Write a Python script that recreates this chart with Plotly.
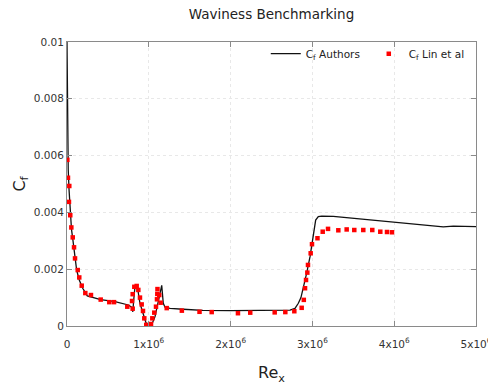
import plotly.graph_objects as go

# Authors (line)
auth_re = [0, 4e3, 8e3, 15e3, 25e3, 40e3, 55e3, 72e3, 98e3, 118e3, 150e3, 192e3, 248e3,
           412e3, 587e3, 750e3, 790e3, 805e3, 815e3, 831e3, 844e3, 870e3, 892e3, 933e3,
           965e3, 1000e3, 1035e3, 1076e3, 1116e3, 1137e3, 1158e3, 1177e3, 1198e3, 1260e3,
           1420e3, 1660e3, 2000e3, 2240e3, 2480e3, 2726e3, 2787e3, 2828e3, 2860e3, 2890e3,
           2930e3, 2971e3, 2999e3, 3023e3, 3040e3, 3072e3, 3114e3, 3256e3, 3500e3, 3745e3,
           3990e3, 4234e3, 4479e3, 4600e3, 4723e3, 4968e3, 5000e3]
auth_cf = [0.0100, 0.0075, 0.0063, 0.0055, 0.0048, 0.0039, 0.0034, 0.00303, 0.00244, 0.00197,
           0.00162, 0.00133, 0.00106, 0.00093, 0.00086, 0.00074, 0.00066, 0.00050, 0.00090,
           0.00138, 0.00144, 0.00120, 0.00080, 0.00045, 0.00012, 0.0, 0.00004, 0.00033,
           0.00080, 0.00115, 0.00143, 0.00080, 0.00066, 0.00062, 0.00059, 0.00055, 0.00054,
           0.00054, 0.00054, 0.00056, 0.00062, 0.00080, 0.00100, 0.00135, 0.00186, 0.00244,
           0.00303, 0.00350, 0.00373, 0.00385, 0.00387, 0.00386, 0.00379, 0.00371, 0.00364,
           0.00359, 0.00351, 0.00349, 0.00352, 0.00350, 0.00350]

# Lin et al (markers)
lin_re = [4e3, 12e3, 28e3, 24e3, 40e3, 53e3, 70e3, 86e3, 98e3, 131e3, 150e3, 180e3, 224e3,
          293e3, 412e3, 517e3, 575e3, 737e3, 803e3, 795e3, 803e3, 823e3, 852e3, 872e3, 892e3,
          913e3, 929e3, 945e3, 969e3, 1002e3, 1027e3, 1043e3, 1067e3, 1088e3, 1100e3, 1104e3,
          1106e3, 1128e3, 1145e3, 1219e3, 1404e3, 1620e3, 1769e3, 2090e3, 2240e3, 2539e3,
          2669e3, 2779e3, 2869e3, 2895e3, 2910e3, 2922e3, 2938e3, 2946e3, 2979e3, 2995e3,
          3062e3, 3126e3, 3191e3, 3317e3, 3419e3, 3512e3, 3622e3, 3732e3, 3830e3, 3912e3, 3973e3]
lin_cf = [0.00585, 0.00522, 0.00493, 0.00437, 0.00390, 0.00347, 0.00312, 0.00277, 0.00238,
          0.00197, 0.00171, 0.00142, 0.00116, 0.00109, 0.00093, 0.00084, 0.00084, 0.00068,
          0.00061, 0.00088, 0.00112, 0.00138, 0.00141, 0.00127, 0.00100, 0.00076, 0.00053,
          0.00027, 0.00004, 0.0, 0.00007, 0.00027, 0.00047, 0.00068, 0.00094, 0.00113, 0.00130,
          0.00109, 0.00082, 0.00063, 0.00054, 0.00050, 0.00049, 0.00045, 0.00047, 0.00048,
          0.00049, 0.00052, 0.00064, 0.00092, 0.00133, 0.00162, 0.00188, 0.00215, 0.00256,
          0.00288, 0.00309, 0.00332, 0.00342, 0.00337, 0.00340, 0.00338, 0.00338, 0.00338,
          0.00332, 0.00331, 0.00330]

x_ticks = [0, 1e6, 2e6, 3e6, 4e6, 5e6]
x_ticktext = ["0", "1x10<sup>6</sup>", "2x10<sup>6</sup>", "3x10<sup>6</sup>",
              "4x10<sup>6</sup>", "5x10<sup>6</sup>"]
y_ticks = [0, 0.002, 0.004, 0.006, 0.008, 0.01]
y_ticktext = ["0", "0.002", "0.004", "0.006", "0.008", "0.01"]

FONT = "DejaVu Sans"

fig = go.Figure()
fig.add_trace(go.Scatter(x=auth_re, y=auth_cf, mode="lines", name="C<sub>f</sub> Authors",
                         line=dict(color="#111111", width=1.3)))
fig.add_trace(go.Scatter(x=lin_re, y=lin_cf, mode="markers", name="C<sub>f</sub> Lin et al",
                         marker=dict(color="#ff0000", symbol="square", size=4.5,
                                     line=dict(width=0))))

axis_common = dict(showline=True, linecolor="#8a8a8a", linewidth=1, mirror="ticks",
                   ticks="inside", ticklen=5, tickcolor="#8a8a8a", showgrid=True,
                   gridcolor="#e8e8e8", griddash="dot", gridwidth=1, zeroline=False,
                   tickfont=dict(family=FONT, size=10.5, color="#333333"), automargin=False,
                   ticklabeloverflow="allow")

fig.update_layout(
    width=488, height=387,
    margin=dict(l=67, r=12, t=42, b=61),
    paper_bgcolor="white", plot_bgcolor="white",
    font=dict(family=FONT, color="#222222"),
    title=dict(text="Waviness Benchmarking", x=0.5, xref="paper", xanchor="center",
               y=0.962, yanchor="middle", font=dict(family=FONT, size=13.5, color="#222222")),
    xaxis=dict(range=[0, 5e6], tickvals=x_ticks, ticktext=x_ticktext, ticklabelstandoff=8,
               title=dict(text="Re<sub>x</sub>", font=dict(family=FONT, size=16), standoff=18),
               **axis_common),
    yaxis=dict(range=[0, 0.01], tickvals=y_ticks, ticktext=y_ticktext,
               title=dict(text="C<sub>f</sub>", font=dict(family=FONT, size=16), standoff=4),
               **axis_common),
    legend=dict(orientation="h", x=0.486, y=1.01, xanchor="left", yanchor="top",
                bgcolor="rgba(0,0,0,0)", font=dict(family=FONT, size=10.5, color="#222222"),
                entrywidth=58, itemwidth=30),
    showlegend=True,
)

fig.write_html("out.html")
